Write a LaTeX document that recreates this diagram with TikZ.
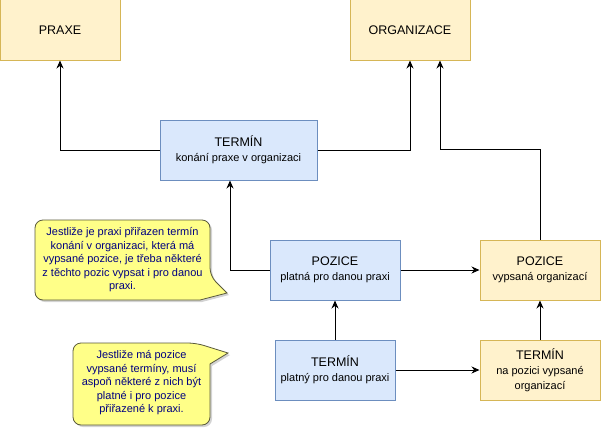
\documentclass[tikz,border=0pt]{standalone}
\usepackage{fontspec}
\setmainfont{Liberation Sans}
\usetikzlibrary{arrows.meta,shadows}

\definecolor{bluefill}{HTML}{DAE8FC}
\definecolor{bluedraw}{HTML}{6C8EBF}
\definecolor{yellowfill}{HTML}{FFF2CC}
\definecolor{yellowdraw}{HTML}{D6B656}
\definecolor{notefill}{HTML}{FFFF88}
\definecolor{notedraw}{HTML}{5A5A3C}
\definecolor{notetext}{HTML}{000080}

\begin{document}
\begin{tikzpicture}[x=1pt,y=-1pt,>={Stealth[length=8pt,width=7pt]},line width=1pt,
    box/.style={rectangle,minimum height=60pt,align=center,inner sep=2pt,
                font=\fontsize{12.5}{15}\selectfont},
    blue box/.style={box,draw=bluedraw,fill=bluefill},
    yellow box/.style={box,draw=yellowdraw,fill=yellowfill},
    note/.style={draw=notedraw,fill=notefill,line width=0.8pt,rounded corners=8pt,
                 drop shadow={opacity=0.35,shadow xshift=2pt,shadow yshift=-2pt}},
    note text/.style={text=notetext,align=center,font=\fontsize{11}{13.5}\selectfont}]
  \useasboundingbox (0,0) rectangle (601,428);

  \newcommand{\sub}[1]{{\fontsize{11}{14}\selectfont #1}}

  \node[yellow box,minimum width=120pt] (praxe) at (60,30) {PRAXE};
  \node[yellow box,minimum width=120pt] (organizace) at (410,30) {ORGANIZACE};
  \node[blue box,minimum width=157pt] (termin konani) at (238.5,150)
       {TERMÍN\\ \sub{konání praxe v organizaci}};
  \node[blue box,minimum width=130pt] (pozice platna) at (335,270)
       {POZICE\\ \sub{platná pro danou praxi}};
  \node[yellow box,minimum width=120pt] (pozice vypsana) at (540,270)
       {POZICE\\ \sub{vypsaná organizací}};
  \node[blue box,minimum width=120pt] (termin platny) at (335,370)
       {TERMÍN\\ \sub{platný pro danou praxi}};
  \node[yellow box,minimum width=120pt] (termin pozice) at (540,370)
       {TERMÍN\\ \sub{na pozici vypsané}\\ \sub{organizací}};

  \draw[->] (termin konani.west) -| (praxe.south);
  \draw[->] (termin konani.east) -| (organizace.south);
  \draw[->] (pozice vypsana.north) -- ++(0,-90) -| ([xshift=30pt]organizace.south);
  \draw[->] (pozice platna.west) -| ([xshift=-8.5pt]termin konani.south);
  \draw[->] (pozice platna.east) -- (pozice vypsana.west);
  \draw[->] (termin platny.north) -- (pozice platna.south);
  \draw[->] (termin platny.east) -- (termin pozice.west);
  \draw[->] (termin pozice.north) -- (pozice vypsana.south);

  % callouts
  \draw[note] (35,220) -- (210,220) -- (210,276) [sharp corners] -- (227,293)
       -- (200,300) [rounded corners=8pt] -- (35,300) -- cycle;
  \node[note text] (note praxe) at (122.5,260)
       {Jestliže je praxi přiřazen termín\\konání v organizaci, která má\\vypsané pozice, je třeba některé\\z těchto pozic vypsat i pro danou\\praxi.};
  \draw[note] (73,343) -- (196,343) [sharp corners] -- (228,353) -- (210,364)
       [rounded corners=8pt] -- (210,425) -- (73,425) -- cycle;
  \node[note text] (note pozice) at (141.5,383)
       {Jestliže má pozice\\vypsané termíny, musí\\aspoň některé z nich být\\platné i pro pozice\\přiřazené k praxi.};
\end{tikzpicture}
\end{document}
